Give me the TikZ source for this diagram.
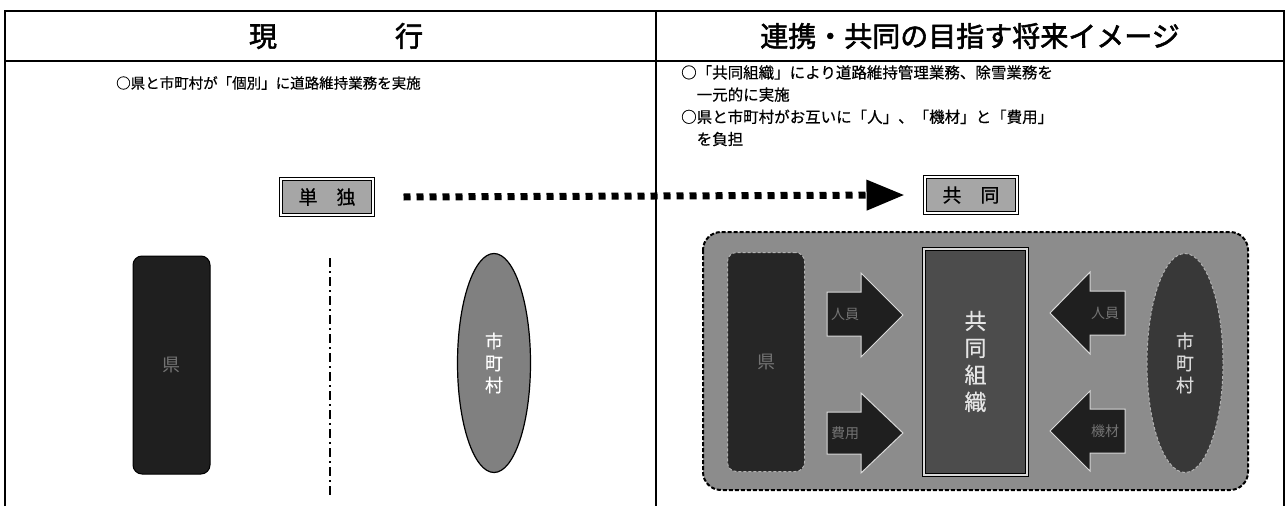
\documentclass[tikz,border=0pt]{standalone}
\usepackage{fontspec}
\newfontfamily\cjk{Noto Sans CJK JP}
\newfontfamily\cjkm[FakeBold=0.5]{Noto Sans CJK JP}
\newfontfamily\cjkb[FakeBold=2]{Noto Sans CJK JP}
\usetikzlibrary{arrows.meta,shapes.geometric}
\tikzset{
  frame/.style={line width=1.4pt, draw=black},
  hdr/.style={font=\cjkb\fontsize{28}{28}\selectfont, inner sep=0},
  body/.style={font=\cjkm\fontsize{15.5}{22.2}\selectfont, anchor=west, inner sep=0, align=left},
  tag/.style={draw=black, line width=1pt, double=white, double distance=1.6pt, fill=black!35,
    minimum width=92, minimum height=36, inner sep=0, font=\cjkm\fontsize{19}{19}\selectfont},
  dotarrow/.style={line width=7pt, dash pattern=on 7pt off 6pt, -{Triangle[length=38pt,width=29pt]}},
  kenbox/.style={rounded corners=9pt, fill=black!88, draw=black, line width=1pt,
    minimum width=77, minimum height=218, inner sep=0, font=\cjk\fontsize{18}{18}\selectfont, text=black!55},
  cityell/.style={ellipse, minimum width=73, minimum height=219, inner sep=0,
    font=\cjkm\fontsize{18}{22}\selectfont, align=center},
  divider/.style={line width=2.6pt, dash pattern=on 9pt off 4pt on 2pt off 4pt},
  region/.style={rounded corners=18pt, fill=black!45, draw=black, line width=2pt, dash pattern=on 4pt off 2pt},
  orgbox/.style={draw=black, line width=1pt, double=white!85!black, double distance=2pt, fill=black!70,
    minimum width=103, minimum height=226, inner sep=0, font=\cjkm\fontsize{22}{27}\selectfont, text=white!90!black, align=center},
  blockarrow/.style={fill=black!88, draw=white!85!black, line width=1pt},
  arrlabel/.style={font=\cjk\fontsize{14}{14}\selectfont, text=black!55, inner sep=0}
}
\begin{document}
\begin{tikzpicture}[x=1pt,y=-1pt]
\useasboundingbox (0,0) rectangle (1287,506);
\fill[white] (0,0) rectangle (1287,506);
% table frame
\draw[frame] (5,506) -- (5,11) -- (1284,11) -- (1284,506);
\draw[frame] (5,61) -- (1284,61);
\draw[frame] (656,11) -- (656,506);
% headers
\node[hdr] (h1) at (336,36) {現\hspace{118pt}行};
\node[hdr] (h2) at (970,36) {連携・共同の目指す将来イメージ};
% descriptions
\node[body, font=\cjkm\fontsize{14.5}{20}\selectfont] (t1) at (116,83) {○県と市町村が「個別」に道路維持業務を実施};
\node[body, anchor=north west] (t2) at (681,65) {○「共同組織」により道路維持管理業務、除雪業務を\\\hspace*{1em}一元的に実施\\○県と市町村がお互いに「人」、「機材」と「費用」\\\hspace*{1em}を負担};
% tags and dotted arrow
\node[tag] (tan) at (327,197) {単\hspace{1em}独};
\node[tag] (kyo) at (971,195) {共\hspace{1em}同};
\draw[dotarrow] ([xshift=30pt]tan.east) -- ([xshift=-20pt]kyo.west);
% current situation
\node[kenbox] (ken1) at (171.5,365) {県};
\coordinate (d1) at (330,258);
\coordinate (d2) at (330,498);
\draw[divider] (d1) -- (d2);
\node[cityell, fill=black!50, draw=black, line width=1.2pt, text=white] (city1) at (494,363) {市\\町\\村};
% future image
\draw[region] (703,232) rectangle (1248,490);
\node[kenbox, fill=black!85, draw=white!70!black, dash pattern=on 3pt off 2pt, minimum height=219] (ken2) at (766,362) {県};
\node[orgbox] (org) at (975.5,361.5) {共\\同\\組\\織};
\node[cityell, fill=black!78, draw=white!70!black, line width=1pt, dash pattern=on 3pt off 2pt, text=white!85!black, minimum width=76] (city2) at (1185,363) {市\\町\\村};
% block arrows
\fill[blockarrow] (827,292) -- (861,292) -- (861,273) -- (903,315) -- (861,357) -- (861,336) -- (827,336) -- cycle;
\node[arrlabel] (a1) at (845,314) {人員};
\fill[blockarrow] (827,412) -- (861,412) -- (861,393) -- (903,433) -- (861,473) -- (861,454) -- (827,454) -- cycle;
\node[arrlabel] (a2) at (845,433) {費用};
\fill[blockarrow] (1125,291) -- (1090,291) -- (1090,272) -- (1050,313) -- (1090,354) -- (1090,335) -- (1125,335) -- cycle;
\node[arrlabel] (a3) at (1105,313) {人員};
\fill[blockarrow] (1125,409) -- (1090,409) -- (1090,391) -- (1050,431) -- (1090,471) -- (1090,453) -- (1125,453) -- cycle;
\node[arrlabel] (a4) at (1105,431) {機材};
\end{tikzpicture}
\end{document}
